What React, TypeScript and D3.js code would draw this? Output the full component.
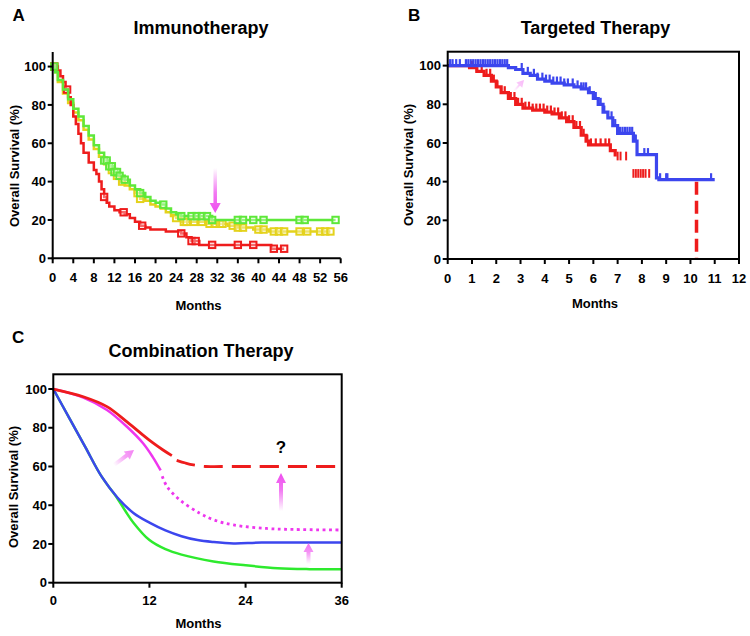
import React from 'react';
import * as d3 from 'd3';

const FONT = '"Liberation Sans", Arial, Helvetica, sans-serif';

// ---------- Panel A: Immunotherapy (KM, months 0-56) ----------
const immunoXTicks = [0, 4, 8, 12, 16, 20, 24, 28, 32, 36, 40, 44, 48, 52, 56];
const survYTicks = [0, 20, 40, 60, 80, 100];

const immunoRedT = [0, 1, 1.5, 2, 2.5, 3, 3.5, 4, 4.5, 5, 5.5, 6, 7, 8, 8.5, 9, 9.5, 10, 10.5, 11, 12, 13, 14, 15, 16, 17, 18, 19, 22, 25, 26, 27, 28.5, 42.5, 45];
const immunoRedS = [100, 98, 95, 92, 88, 84, 80, 74, 70, 65, 60, 55, 50, 46, 44, 40, 36, 32, 29, 27, 25, 24, 23, 21, 19, 17, 16, 15, 14, 13, 11, 9, 7, 5, 5];
const immunoRedCensor = [0.3, 2.8, 10, 13.8, 17.4, 25, 27, 27.8, 31, 36, 39, 43, 45];

const immunoGreenT = [0, 0.5, 1, 2, 3, 4, 5, 6, 7, 8, 9, 10, 11, 12, 13, 14, 15, 16, 17, 18, 19, 20, 21, 22, 23, 24, 25, 31, 55];
const immunoGreenS = [100, 97, 93, 88, 83, 78, 74, 69, 64, 59, 55, 51, 48, 45, 43, 41, 38, 36, 34, 32, 30, 29, 28, 26, 24, 23, 22, 20, 20];
const immunoGreenCensor = [0.3, 10, 10.5, 11, 11.5, 12, 12.5, 13, 14, 17, 21.5, 25, 27, 28, 29, 30, 31, 36, 37, 39, 41, 48, 49, 55];

const immunoYellowT = [0, 0.5, 1, 2, 3, 4, 5, 6, 7, 8, 9, 10, 11, 12, 13, 14, 15, 16, 17, 18, 19, 20, 21, 22, 23, 24, 25, 30, 34, 36, 39, 42, 54];
const immunoYellowS = [100, 97, 92, 86, 81, 76, 72, 67, 62, 57, 53, 49, 46, 43, 40, 38, 36, 34, 31, 30, 28, 27, 26, 24, 22, 21, 19, 18, 17, 16, 15, 14, 14];
const immunoYellowCensor = [0.3, 11.5, 12.5, 13.5, 16.5, 17, 24, 25.5, 26, 27.5, 29, 30.5, 31.5, 32.5, 33, 35, 36, 37, 40, 41, 43, 44, 45, 48, 49.5, 52, 53, 54];

// ---------- Panel B: Targeted therapy (KM, months 0-12) ----------
const targetXTicks = [0, 1, 2, 3, 4, 5, 6, 7, 8, 9, 10, 11, 12];

const targetBlueT = [0, 2.5, 2.8, 3.1, 3.4, 3.7, 4.0, 4.3, 4.8, 5.2, 5.5, 5.8, 6.0, 6.2, 6.4, 6.6, 6.8, 7.0, 7.65, 7.8, 8.6, 8.7, 11.0];
const targetBlueS = [100, 99, 98, 96, 95, 93, 92, 91, 90, 89, 88, 86, 83, 80, 76, 73, 69, 65, 61, 54, 42, 41, 41];
const targetBlueCensor = [0.1, 0.2, 0.35, 0.5, 0.75, 0.85, 0.95, 1.05, 1.15, 1.25, 1.35, 1.45, 1.55, 1.65, 1.75, 1.85, 1.95, 2.05, 2.15, 2.25, 2.35, 2.45, 3.05, 3.3, 3.55, 3.7, 3.9, 4.05, 4.2, 4.35, 4.5, 4.65, 4.8, 4.95, 5.15, 5.35, 5.5, 5.6, 5.7, 5.85, 6.0, 6.1, 6.2, 6.3, 6.45, 6.6, 6.75, 6.9, 7.1, 7.2, 7.3, 7.4, 7.5, 7.6, 7.7, 7.75, 8.1, 8.25, 8.75, 9.0, 9.05, 10.85];

const targetRedT = [0, 0.9, 1.2, 1.5, 1.8, 2.0, 2.2, 2.5, 2.8, 3.1, 3.5, 4.0, 4.3, 4.6, 4.9, 5.2, 5.5, 5.7, 5.8, 6.5, 6.7, 6.9];
const targetRedS = [100, 99, 97, 95, 92, 89, 86, 83, 80, 78, 77, 76, 75, 73, 71, 68, 64, 61, 59, 59, 56, 53];
const targetRedCensor = [1.0, 1.2, 1.4, 1.6, 1.75, 1.9, 2.05, 2.2, 2.35, 2.5, 2.6, 2.75, 2.9, 3.05, 3.2, 3.35, 3.5, 3.65, 3.8, 3.95, 4.1, 4.25, 4.4, 4.55, 4.7, 4.85, 5.0, 5.15, 5.3, 5.45, 5.6, 5.75, 5.9, 6.1, 6.3, 6.5, 6.65];
const targetRedTail52 = [7.0, 7.12, 7.35];
const targetRedTail43 = [7.65, 7.75, 7.85, 7.95, 8.05, 8.15, 8.3];
const targetRedDropT = 10.25;
const targetRedDropS = [40, 0];

// ---------- Panel C: Combination therapy (curves, months 0-36) ----------
const comboXTicks = [0, 12, 24, 36];

const comboRedSolidT = [0, 3.75, 6.7, 9.2, 11.2, 12.4, 13.7, 14.8];
const comboRedSolidS = [100, 96, 90.9, 83, 76.2, 72.3, 68.5, 65.6];
const comboRedDashT = [15.4, 16.5, 17.5, 19, 21, 36];
const comboRedDashS = [63.2, 61.8, 60.8, 60, 60, 60];

const comboMagentaSolidT = [0, 3.75, 6.7, 9.2, 11.2, 12.4, 13.4];
const comboMagentaSolidS = [100, 95.6, 89.2, 80.5, 72, 65, 58];
const comboMagentaDotT = [13.6, 14.2, 15.8, 18.3, 20, 22.5, 26.6, 30, 36];
const comboMagentaDotS = [55, 49.6, 42.7, 35.8, 32.5, 29.8, 28, 27.5, 27.2];

const comboBlueT = [0, 2, 4, 6, 8, 10, 12, 14, 16, 18, 20, 22.5, 26, 36];
const comboBlueS = [100, 85, 70, 55, 44, 36, 31, 27, 24, 22, 21, 20.3, 20.7, 20.7];

const comboGreenT = [0, 2, 4, 6, 8, 9, 10, 12, 14, 16, 20, 24, 28, 32, 36];
const comboGreenS = [100, 85, 70, 55, 43.5, 37, 31, 22, 17.3, 14.5, 11, 9, 7.5, 7, 6.9];

// ---------- colours ----------
const RED = '#ee1c1c';
const GREEN = '#5ee83a';
const YELLOW = '#e4d21c';
const BLUE = '#3c46ee';
const MAGENTA = '#ee36ee';
const CGREEN = '#2eea2e';
const PINK = '#ee4cee';

function stepAt(ts: number[], vs: number[], t: number) {
  let v = vs[0];
  for (let i = 0; i < ts.length; i++) {
    if (ts[i] <= t) v = vs[i];
    else break;
  }
  return v;
}
const zip = (ts: number[], vs: number[]) => ts.map((t, i) => [t, vs[i]] as [number, number]);

function Arrow({ id, x1, y1, x2, y2, shaft = 3.5, head = 11, headLen = 10, color = PINK, op = 1 }: any) {
  const dx = x2 - x1, dy = y2 - y1;
  const L = Math.hypot(dx, dy);
  const ux = dx / L, uy = dy / L;
  const nx = -uy, ny = ux;
  const bx = x2 - ux * headLen, by = y2 - uy * headLen;
  const p = [
    [x1 + nx * shaft / 2, y1 + ny * shaft / 2],
    [bx + nx * shaft / 2, by + ny * shaft / 2],
    [bx + nx * head / 2, by + ny * head / 2],
    [x2, y2],
    [bx - nx * head / 2, by - ny * head / 2],
    [bx - nx * shaft / 2, by - ny * shaft / 2],
    [x1 - nx * shaft / 2, y1 - ny * shaft / 2],
  ];
  return (
    <g opacity={op}>
      <defs>
        <linearGradient id={id} gradientUnits="userSpaceOnUse" x1={x1} y1={y1} x2={x2} y2={y2}>
          <stop offset="0" stopColor={color} stopOpacity={0} />
          <stop offset="0.55" stopColor={color} stopOpacity={0.75} />
          <stop offset="1" stopColor={color} stopOpacity={1} />
        </linearGradient>
      </defs>
      <polygon points={p.map((q) => q.join(',')).join(' ')} fill={`url(#${id})`} />
    </g>
  );
}

function AxisLeft({ y, x0, ticks, labelX }: any) {
  return (
    <g>
      {ticks.map((t: number) => (
        <g key={t}>
          <line x1={x0 - 5} x2={x0} y1={y(t)} y2={y(t)} stroke="#000" strokeWidth={2} />
          <text x={labelX} y={y(t)} dy="0.36em" textAnchor="end" fontFamily={FONT} fontWeight="bold" fontSize={13}>{t}</text>
        </g>
      ))}
    </g>
  );
}

function AxisBottom({ x, y0, ticks, labelY }: any) {
  return (
    <g>
      {ticks.map((t: number) => (
        <g key={t}>
          <line x1={x(t)} x2={x(t)} y1={y0} y2={y0 + 5} stroke="#000" strokeWidth={2} />
          <text x={x(t)} y={labelY} textAnchor="middle" fontFamily={FONT} fontWeight="bold" fontSize={13}>{t}</text>
        </g>
      ))}
    </g>
  );
}

function YLabel({ x, y }: any) {
  return (
    <text transform={`translate(${x},${y}) rotate(-90)`} textAnchor="middle" fontFamily={FONT} fontWeight="bold" fontSize={13}>
      Overall Survival (%)
    </text>
  );
}

export default function App() {
  // Panel A scales
  const xA = d3.scaleLinear().domain([0, 56]).range([52.7, 340.7]);
  const yA = d3.scaleLinear().domain([0, 107.6]).range([258.3, 52]);
  // Panel B scales
  const xB = d3.scaleLinear().domain([0, 12]).range([447.7, 739]);
  const yB = d3.scaleLinear().domain([0, 107.2]).range([259, 51.7]);
  // Panel C scales
  const xC = d3.scaleLinear().domain([0, 36]).range([53.3, 341.7]);
  const yC = d3.scaleLinear().domain([0, 107.6]).range([582.7, 374.3]);

  const stepA = d3.line<[number, number]>().x((d) => xA(d[0])).y((d) => yA(d[1])).curve(d3.curveStepAfter);
  const stepB = d3.line<[number, number]>().x((d) => xB(d[0])).y((d) => yB(d[1])).curve(d3.curveStepAfter);
  const smoothC = d3.line<[number, number]>().x((d) => xC(d[0])).y((d) => yC(d[1])).curve(d3.curveCatmullRom.alpha(0.5));

  const kmA = (ts: number[], vs: number[], cens: number[], color: string) => (
    <g>
      <path d={stepA(zip(ts, vs)) || ''} fill="none" stroke={color} strokeWidth={2.5} />
      {cens.map((c, i) => {
        const cx = xA(c), cy = yA(stepAt(ts, vs, c));
        return <rect key={i} x={cx - 3.2} y={cy - 3.2} width={6.4} height={6.4} fill="#fff" fillOpacity={0.35} stroke={color} strokeWidth={2} />;
      })}
    </g>
  );

  const kmB = (ts: number[], vs: number[], cens: number[], color: string) => (
    <g>
      <path d={stepB(zip(ts, vs)) || ''} fill="none" stroke={color} strokeWidth={3.2} />
      {cens.map((c, i) => {
        const cx = xB(c), cy = yB(stepAt(ts, vs, c));
        return <line key={i} x1={cx} x2={cx} y1={cy} y2={cy - 6.5} stroke={color} strokeWidth={2.2} />;
      })}
    </g>
  );

  return (
    <svg width={750} height={636} style={{ position: 'absolute', left: 0, top: 0, background: '#fff' }}>
      <rect width={750} height={636} fill="#fff" />
      {/* ================= Panel A ================= */}
      <text x={12.5} y={21} fontFamily={FONT} fontWeight="bold" fontSize={17}>A</text>
      <text x={201} y={33.5} textAnchor="middle" fontFamily={FONT} fontWeight="bold" fontSize={18}>Immunotherapy</text>
      {kmA(immunoYellowT, immunoYellowS, immunoYellowCensor, YELLOW)}
      {kmA(immunoRedT, immunoRedS, immunoRedCensor, RED)}
      {kmA(immunoGreenT, immunoGreenS, immunoGreenCensor, GREEN)}
      <line x1={xA(0)} x2={xA(0)} y1={yA(0) + 1} y2={yA.range()[1]} stroke="#000" strokeWidth={2} />
      <line x1={xA(0) - 1} x2={xA(56)} y1={yA(0)} y2={yA(0)} stroke="#000" strokeWidth={2} />
      <AxisLeft y={yA} x0={xA(0)} ticks={survYTicks} labelX={46} />
      <AxisBottom x={xA} y0={yA(0)} ticks={immunoXTicks} labelY={281.5} />
      <YLabel x={19} y={166} />
      <text x={198.5} y={310} textAnchor="middle" fontFamily={FONT} fontWeight="bold" fontSize={13}>Months</text>
      <Arrow id="arrA" x1={xA(31.6)} y1={168} x2={xA(31.6)} y2={213} shaft={3.5} head={11} headLen={10} />

      {/* ================= Panel B ================= */}
      <text x={408} y={21} fontFamily={FONT} fontWeight="bold" fontSize={17}>B</text>
      <text x={595.5} y={34} textAnchor="middle" fontFamily={FONT} fontWeight="bold" fontSize={18}>Targeted Therapy</text>
      {kmB(targetRedT, targetRedS, targetRedCensor, RED)}
      {targetRedTail52.map((c, i) => (
        <line key={'r52' + i} x1={xB(c)} x2={xB(c)} y1={yB(51)} y2={yB(55.5)} stroke={RED} strokeWidth={2} />
      ))}
      {targetRedTail43.map((c, i) => (
        <line key={'r43' + i} x1={xB(c)} x2={xB(c)} y1={yB(42)} y2={yB(46.5)} stroke={RED} strokeWidth={2} />
      ))}
      <line x1={xB(targetRedDropT)} x2={xB(targetRedDropT)} y1={yB(targetRedDropS[0])} y2={yB(targetRedDropS[1])} stroke={RED} strokeWidth={3.5} strokeDasharray="13,6" />
      {kmB(targetBlueT, targetBlueS, targetBlueCensor, BLUE)}
      <rect x={xB(0)} y={yB.range()[1]} width={xB(12) - xB(0)} height={yB(0) - yB.range()[1]} fill="none" stroke="#000" strokeWidth={2} />
      <AxisLeft y={yB} x0={xB(0)} ticks={survYTicks} labelX={441} />
      <AxisBottom x={xB} y0={yB(0)} ticks={targetXTicks} labelY={283} />
      <YLabel x={413} y={165} />
      <text x={595} y={308} textAnchor="middle" fontFamily={FONT} fontWeight="bold" fontSize={13}>Months</text>
      <Arrow id="arrB" x1={514} y1={91} x2={524} y2={80} shaft={2} head={8} headLen={7} op={0.4} />

      {/* ================= Panel C ================= */}
      <text x={12} y={343} fontFamily={FONT} fontWeight="bold" fontSize={17}>C</text>
      <text x={201} y={356.5} textAnchor="middle" fontFamily={FONT} fontWeight="bold" fontSize={18}>Combination Therapy</text>
      <path d={smoothC(zip(comboGreenT, comboGreenS)) || ''} fill="none" stroke={CGREEN} strokeWidth={2.5} />
      <path d={smoothC(zip(comboBlueT, comboBlueS)) || ''} fill="none" stroke={BLUE} strokeWidth={2.5} />
      <path d={smoothC(zip(comboMagentaSolidT, comboMagentaSolidS)) || ''} fill="none" stroke={MAGENTA} strokeWidth={2.5} />
      <path d={smoothC(zip(comboMagentaDotT, comboMagentaDotS)) || ''} fill="none" stroke={MAGENTA} strokeWidth={2.8} strokeDasharray="2.8,3.6" />
      <path d={smoothC(zip(comboRedSolidT, comboRedSolidS)) || ''} fill="none" stroke={RED} strokeWidth={2.8} />
      <path d={smoothC(zip(comboRedDashT, comboRedDashS)) || ''} fill="none" stroke={RED} strokeWidth={2.8} strokeDasharray="19,9" />
      <rect x={xC(0)} y={yC.range()[1]} width={xC(36) - xC(0)} height={yC(0) - yC.range()[1]} fill="none" stroke="#000" strokeWidth={2} />
      <AxisLeft y={yC} x0={xC(0)} ticks={survYTicks} labelX={47} />
      <AxisBottom x={xC} y0={yC(0)} ticks={comboXTicks} labelY={605} />
      <YLabel x={18} y={487} />
      <text x={198.5} y={628} textAnchor="middle" fontFamily={FONT} fontWeight="bold" fontSize={13}>Months</text>
      <text x={281} y={453} textAnchor="middle" fontFamily={FONT} fontWeight="bold" fontSize={17}>?</text>
      <Arrow id="arrC1" x1={114} y1={465} x2={134} y2={450} shaft={4} head={10} headLen={9} op={0.7} />
      <Arrow id="arrC2" x1={281} y1={511} x2={281} y2={473} shaft={4} head={10} headLen={10} />
      <Arrow id="arrC3" x1={308.5} y1={564} x2={308.5} y2={543} shaft={4} head={10} headLen={9} op={0.8} />
    </svg>
  );
}
